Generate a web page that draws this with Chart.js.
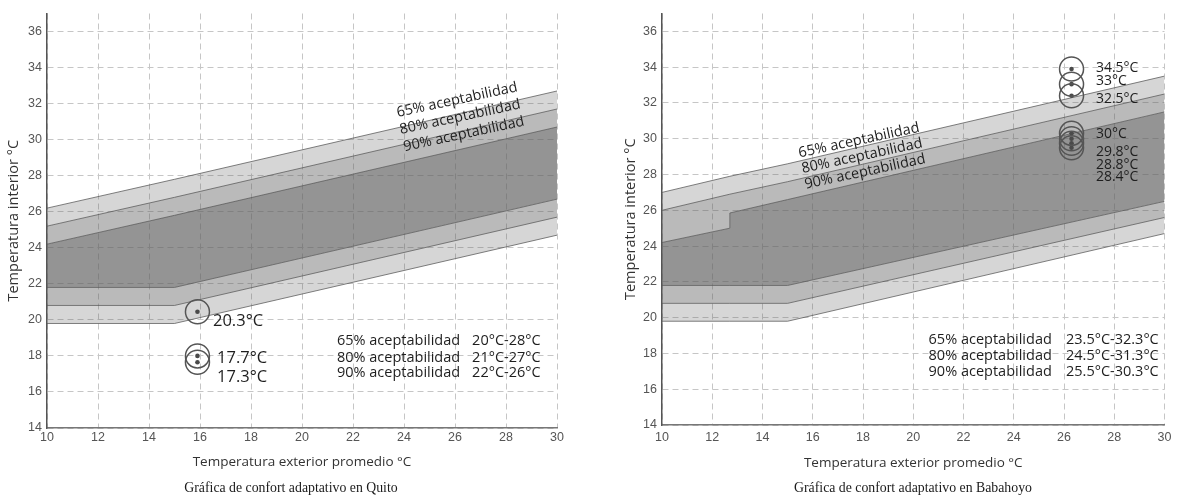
<!DOCTYPE html>
<html><head><meta charset="utf-8">
<script src="https://cdn.jsdelivr.net/npm/chart.js@4.4.1/dist/chart.umd.min.js"></script>
<style>
html,body{margin:0;padding:0;background:#fff;width:1178px;height:502px;overflow:hidden;position:relative}
#c1{position:absolute;left:0;top:0}
#c2{position:absolute;left:615px;top:0}
.sub{position:absolute;top:479px;line-height:18px;font-family:"Liberation Serif",serif;font-size:13.8px;color:#1a1a1a;white-space:nowrap;transform:translateX(-50%)}
</style></head><body>
<canvas id="c1" width="590" height="502"></canvas>
<canvas id="c2" width="563" height="502"></canvas>
<div class="sub" style="left:291px">Gráfica de confort adaptativo en Quito</div>
<div class="sub" style="left:913px">Gráfica de confort adaptativo en Babahoyo</div>
<script>
// ---- tick labels
const xTicks = [10, 12, 14, 16, 18, 20, 22, 24, 26, 28, 30];
const yTicks = [14, 16, 18, 20, 22, 24, 26, 28, 30, 32, 34, 36];

// ---- text
const bandLabels = ['65% aceptabilidad', '80% aceptabilidad', '90% aceptabilidad'];
const tableLabels = ['65% aceptabilidad', '80% aceptabilidad', '90% aceptabilidad'];

// ---- Quito comfort bands
const quitoX = [10, 15, 30];
const quitoUp65 = [26.2, 27.8, 32.7];
const quitoUp80 = [25.2, 26.8, 31.7];
const quitoUp90 = [24.2, 25.8, 30.7];
const quitoLo90 = [21.8, 21.8, 26.7];
const quitoLo80 = [20.8, 20.8, 25.7];
const quitoLo65 = [19.8, 19.8, 24.7];
const quitoPointX = [15.9, 15.9, 15.9];
const quitoPointY = [20.45, 18.0, 17.65];
const quitoPointLabels = ['20.3°C', '17.7°C', '17.3°C'];
const quitoRanges = ['20°C-28°C', '21°C-27°C', '22°C-26°C'];

// ---- Babahoyo comfort bands
const babaX = [10, 12.7, 12.7, 15, 30];
const babaUp65 = [27.0, 27.9, 27.9, 28.6, 33.5];
const babaUp80 = [26.0, 26.9, 26.9, 27.6, 32.5];
const babaUp90 = [24.2, 25.0, 25.85, 26.6, 31.5];
const babaLo90 = [21.8, 21.8, 21.8, 21.8, 26.5];
const babaLo80 = [20.8, 20.8, 20.8, 20.8, 25.6];
const babaLo65 = [19.8, 19.8, 19.8, 19.8, 24.7];
const babaPointX = [26.3, 26.3, 26.3, 26.3, 26.3, 26.3, 26.3];
const babaPointY = [33.9, 33.05, 32.4, 30.3, 30.0, 29.75, 29.5];
const babaPointLabels = ['34.5°C', '33°C', '32.5°C', '30°C', '29.8°C', '28.8°C', '28.4°C'];
const babaRanges = ['23.5°C-32.3°C', '24.5°C-31.3°C', '25.5°C-30.3°C'];

Chart.defaults.devicePixelRatio = 1;

const annotPlugin = {
  id: 'annot',
  afterDatasetsDraw(chart, args, o) {
    const ctx = chart.ctx, xs = chart.scales.x, ys = chart.scales.y;
    const P = (x, y) => [xs.getPixelForValue(x), ys.getPixelForValue(y)];
    ctx.save();
    const [ax, ay] = P(o.slopeA[0], o.slopeA[1]);
    const [bx, by] = P(o.slopeB[0], o.slopeB[1]);
    const ang = Math.atan2(by - ay, bx - ax) * 0.93;
    ctx.fillStyle = '#1e1e1e';
    ctx.font = o.bandFont;
    ctx.textAlign = 'center';
    ctx.textBaseline = 'middle';
    o.bandPos.forEach((p, i) => {
      const [px, py] = P(p[0], p[1]);
      ctx.save(); ctx.translate(px, py); ctx.rotate(ang);
      ctx.fillText(bandLabels[i], 0, 0); ctx.restore();
    });
    ctx.textAlign = 'left';
    ctx.font = o.pointFont;
    o.pointLabelPos.forEach((p, i) => {
      const [px, py] = P(p[0], p[1]);
      ctx.fillText(o.pointLabels[i], px, py);
    });
    ctx.font = o.tableFont;
    o.tableY.forEach((yv, i) => {
      const [px, py] = P(o.tableX, yv);
      ctx.fillText(tableLabels[i], px, py);
      const [vx] = P(o.tableValX, yv);
      ctx.fillText(o.ranges[i], vx, py);
    });
    ctx.restore();
  }
};

function pts(xa, ya) { return xa.map((x, i) => ({ x: x, y: ya[i] })); }

function bandDs(xa, ya, fillColor, fill) {
  return { type: 'line', data: pts(xa, ya), borderColor: 'rgba(85,85,85,0.75)', borderWidth: 1,
    pointRadius: 0, tension: 0, fill: fill ? '+1' : false, backgroundColor: fillColor, order: 1 };
}

const C65 = 'rgba(95,95,95,0.26)', C80 = 'rgba(95,95,95,0.43)', C90 = 'rgba(95,95,95,0.67)';

function makeChart(id, g) {
  const datasets = [
    bandDs(g.x, g.up65, C65, true),
    bandDs(g.x, g.up80, C80, true),
    bandDs(g.x, g.up90, C90, true),
    bandDs(g.x, g.lo90, C80, true),
    bandDs(g.x, g.lo80, C65, true),
    bandDs(g.x, g.lo65, 'transparent', false),
    { type: 'line', data: pts(g.px, g.py), showLine: false, pointRadius: 12, pointHoverRadius: 12,
      pointBackgroundColor: 'rgba(0,0,0,0)', pointBorderColor: '#555', pointBorderWidth: 1.5, order: 0 },
    { type: 'line', data: pts(g.px, g.py), showLine: false, pointRadius: 2.3, pointHoverRadius: 2.3,
      pointBackgroundColor: '#4a4a4a', pointBorderColor: '#4a4a4a', pointBorderWidth: 0, order: 0 }
  ];
  const tickFont = { family: 'Liberation Sans', size: 12.5 };
  return new Chart(document.getElementById(id), {
    type: 'line',
    data: { datasets: datasets },
    plugins: [annotPlugin],
    options: {
      responsive: false, animation: false, events: [],
      layout: { padding: { left: 0, right: g.padR, top: g.padT, bottom: g.padB } },
      plugins: {
        legend: { display: false }, tooltip: { enabled: false },
        annot: g.annot
      },
      scales: {
        x: {
          type: 'linear', min: 10, max: 30,
          afterBuildTicks: s => { s.ticks = xTicks.map(v => ({ value: v })); },
          afterFit: s => { s.height = g.xH; },
          grid: { color: '#c6c6c6', lineWidth: 1, drawTicks: false },
          border: { display: true, color: '#777', width: 1.5, dash: [6, 4] },
          ticks: { font: tickFont, color: '#555', padding: g.xTickPad, maxRotation: 0 },
          title: { display: true, text: 'Temperatura exterior promedio °C', font: { family: 'Open Sans', size: 13.5 }, color: '#333',
            padding: { top: 0, bottom: g.xTitlePad } }
        },
        y: {
          type: 'linear', min: 14, max: 37,
          afterBuildTicks: s => { s.ticks = yTicks.map(v => ({ value: v })); },
          afterFit: s => { s.width = 47; },
          grid: { color: '#c6c6c6', lineWidth: 1, drawTicks: false },
          border: { display: true, color: '#555', width: 1.5, dash: [6, 4] },
          ticks: { font: tickFont, color: '#555', padding: 5 },
          title: { display: true, text: 'Temperatura interior °C', font: { family: 'Open Sans', size: 14.5 }, color: '#333',
            padding: { top: g.yTitlePad, bottom: 0 } }
        }
      }
    }
  });
}

makeChart('c1', {
  x: quitoX, up65: quitoUp65, up80: quitoUp80, up90: quitoUp90,
  lo90: quitoLo90, lo80: quitoLo80, lo65: quitoLo65,
  px: quitoPointX, py: quitoPointY,
  padR: 33, padT: 7, padB: 24, xH: 50, xTickPad: 2, xTitlePad: 8, yTitlePad: 5,
  annot: {
    slopeA: [quitoX[1], quitoUp65[1]], slopeB: [quitoX[2], quitoUp65[2]],
    bandFont: '14.5px "Open Sans"',
    bandPos: [[26.08, 32.2], [26.2, 31.25], [26.35, 30.3]],
    pointFont: '16.5px "Open Sans"',
    pointLabels: quitoPointLabels,
    pointLabelPos: [[16.51, 19.9], [16.67, 17.88], [16.67, 16.79]],
    tableFont: '14.5px "Open Sans"',
    tableX: 21.37, tableValX: 26.67, tableY: [18.81, 17.9, 17.06], ranges: quitoRanges
  }
});

makeChart('c2', {
  x: babaX, up65: babaUp65, up80: babaUp80, up90: babaUp90,
  lo90: babaLo90, lo80: babaLo80, lo65: babaLo65,
  px: babaPointX, py: babaPointY,
  padR: 11, padT: 5.7, padB: 24.4, xH: 52.6, xTickPad: 5, xTitlePad: 6.6, yTitlePad: 7,
  annot: {
    slopeA: [babaX[3], babaUp65[3]], slopeB: [babaX[4], babaUp65[4]],
    bandFont: '14.5px "Open Sans"',
    bandPos: [[17.84, 29.9], [17.96, 29.03], [18.08, 28.15]],
    pointFont: '14px "Open Sans"',
    pointLabels: babaPointLabels,
    pointLabelPos: [[27.27, 33.97], [27.27, 33.2], [27.27, 32.21], [27.27, 30.24], [27.27, 29.25], [27.27, 28.54], [27.27, 27.88]],
    tableFont: '14.5px "Open Sans"',
    tableX: 20.61, tableValX: 26.08, tableY: [18.77, 17.84, 16.96], ranges: babaRanges
  }
});
</script>
</body></html>
